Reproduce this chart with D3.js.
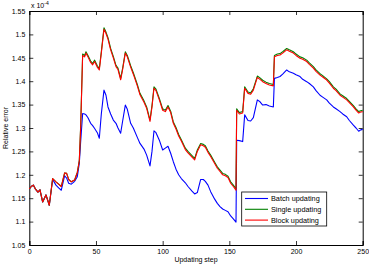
<!DOCTYPE html>
<html><head><meta charset="utf-8">
<script src="https://cdnjs.cloudflare.com/ajax/libs/d3/7.8.5/d3.min.js"></script>
<style>
html,body{margin:0;padding:0;background:#fff;}
svg{display:block;font-family:"Liberation Sans",Arial,Helvetica,sans-serif;}
</style></head>
<body>
<script>
const steps = [0,1.5,3,4.5,6.5,8,10,12.5,15,17.5,20,22,24,26.5,28,29.5,31.5,34,36,37.5,38.5,40,41.5,42.5,44,46,47.5,49,51,52.5,54,56,57.5,59,61,63,65,66.5,68.5,70,72,73.5,76,78,81,83,86,88,90.5,92,93.5,95,97.5,100,102,104,106,108,110,112,114,117,119,122,124,126,128.5,130.5,132,134,136,139,141,143,145,147,149,151,153,155,155.5,157.5,160,161.5,164,166,168,171,173,175,177.5,180,183,183.8,186,188,190,193,195,198,200,203,205,208,210,213,215,218,220,223,225,228,230,233,235,238,240,243,245,247,248.5,250];

const batch = [1.170,1.175,1.178,1.170,1.163,1.168,1.142,1.157,1.135,1.190,1.178,1.172,1.167,1.198,1.193,1.182,1.180,1.186,1.196,1.225,1.270,1.331,1.330,1.328,1.322,1.310,1.305,1.299,1.290,1.278,1.330,1.381,1.370,1.345,1.330,1.317,1.310,1.300,1.289,1.315,1.349,1.340,1.310,1.300,1.280,1.267,1.255,1.242,1.219,1.250,1.294,1.290,1.274,1.253,1.257,1.261,1.246,1.228,1.212,1.200,1.192,1.183,1.175,1.165,1.159,1.162,1.190,1.190,1.186,1.178,1.164,1.148,1.139,1.132,1.127,1.124,1.121,1.112,1.106,1.099,1.274,1.273,1.271,1.328,1.316,1.315,1.322,1.360,1.356,1.349,1.350,1.347,1.345,1.406,1.408,1.410,1.415,1.424,1.420,1.417,1.414,1.410,1.404,1.399,1.395,1.388,1.380,1.370,1.366,1.360,1.353,1.345,1.341,1.335,1.330,1.324,1.316,1.306,1.300,1.293,1.296,1.297];

const single = [1.170,1.175,1.178,1.170,1.163,1.168,1.142,1.157,1.135,1.192,1.185,1.180,1.175,1.204,1.203,1.190,1.185,1.189,1.205,1.230,1.303,1.458,1.455,1.463,1.455,1.443,1.438,1.445,1.433,1.427,1.463,1.514,1.505,1.493,1.470,1.453,1.434,1.428,1.406,1.428,1.463,1.455,1.433,1.418,1.393,1.374,1.358,1.345,1.317,1.348,1.388,1.383,1.363,1.341,1.338,1.348,1.336,1.313,1.301,1.286,1.275,1.257,1.250,1.241,1.235,1.253,1.267,1.265,1.262,1.251,1.242,1.227,1.217,1.210,1.203,1.201,1.197,1.185,1.178,1.170,1.341,1.333,1.335,1.388,1.377,1.375,1.384,1.411,1.407,1.402,1.398,1.395,1.393,1.455,1.458,1.459,1.463,1.470,1.467,1.463,1.458,1.452,1.450,1.445,1.439,1.431,1.424,1.416,1.412,1.405,1.399,1.388,1.383,1.373,1.369,1.363,1.357,1.348,1.341,1.335,1.337,1.338];

const block = [1.170,1.175,1.178,1.170,1.163,1.168,1.142,1.157,1.135,1.192,1.185,1.180,1.175,1.204,1.203,1.190,1.185,1.189,1.205,1.230,1.300,1.455,1.452,1.460,1.452,1.440,1.435,1.442,1.430,1.424,1.460,1.511,1.502,1.490,1.467,1.450,1.431,1.425,1.403,1.425,1.460,1.452,1.430,1.415,1.390,1.371,1.355,1.342,1.314,1.345,1.385,1.380,1.360,1.338,1.335,1.345,1.333,1.310,1.298,1.283,1.272,1.254,1.247,1.238,1.232,1.250,1.264,1.262,1.259,1.248,1.239,1.224,1.214,1.207,1.200,1.198,1.194,1.182,1.175,1.167,1.338,1.330,1.332,1.385,1.374,1.372,1.381,1.408,1.404,1.399,1.395,1.392,1.390,1.452,1.455,1.456,1.460,1.467,1.464,1.460,1.455,1.449,1.447,1.442,1.436,1.428,1.421,1.413,1.409,1.4025,1.396,1.385,1.380,1.370,1.366,1.360,1.354,1.345,1.338,1.332,1.334,1.335];

const xTicks = [0,50,100,150,200,250];
const yTicks = [1.05,1.1,1.15,1.2,1.25,1.3,1.35,1.4,1.45,1.5,1.55];
const seriesNames = ["Batch updating","Single updating","Block updating"];
const seriesColors = ["#0000ff","#008000","#ff0000"];
const seriesData = [batch, single, block];

const W = 369, H = 265;
const m = {left:29.3, right:W-362.7, top:11, bottom:H-245};
const svg = d3.select("body").append("svg").attr("width",W).attr("height",H);
const x = d3.scaleLinear().domain([0,250]).range([m.left, W-m.right]);
const y = d3.scaleLinear().domain([1.05,1.55]).range([H-m.bottom, m.top]);

const fmtY = d => d3.format(".2f")(d).replace(/0$/,"").replace(/\.$/,"");
const fs = 7;

// axes
const gx = svg.append("g").attr("transform",`translate(0,${y(1.05)})`)
  .call(d3.axisBottom(x).tickValues(xTicks).tickSize(-4).tickPadding(4).tickFormat(d3.format("d")));
const gxt = svg.append("g").attr("transform",`translate(0,${y(1.55)})`)
  .call(d3.axisTop(x).tickValues(xTicks).tickSize(-4).tickFormat(""));
const gy = svg.append("g").attr("transform",`translate(${x(0)},0)`)
  .call(d3.axisLeft(y).tickValues(yTicks).tickSize(-4).tickPadding(4).tickFormat(fmtY));
const gyr = svg.append("g").attr("transform",`translate(${x(250)},0)`)
  .call(d3.axisRight(y).tickValues(yTicks).tickSize(-4).tickFormat(""));
[gx,gxt,gy,gyr].forEach(g=>{
  g.select(".domain").attr("stroke","#000").attr("stroke-width",1);
  g.selectAll(".tick line").attr("stroke","#000").attr("stroke-width",0.8);
  g.selectAll("text").attr("font-size",fs).attr("fill","#000").attr("font-family","Liberation Sans, Arial, sans-serif");
});

// lines
const line = d3.line().x((d,i)=>x(steps[i])).y(d=>y(d));
seriesData.forEach((s,k)=>{
  svg.append("path").datum(s).attr("d",line).attr("fill","none")
    .attr("stroke",seriesColors[k]).attr("stroke-width",1.1).attr("stroke-linejoin","round");
});

// exponent label
const ex = svg.append("text").attr("x",31).attr("y",8).attr("font-size",fs).attr("fill","#000");
ex.append("tspan").text("x 10");
ex.append("tspan").attr("dy",-3).attr("font-size",5).text("-4");

// axis labels
svg.append("text").attr("x",(x(0)+x(250))/2).attr("y",262).attr("text-anchor","middle")
  .attr("font-size",fs).attr("fill","#000").text("Updating step");
svg.append("text").attr("transform",`translate(8,${(y(1.05)+y(1.55))/2}) rotate(-90)`)
  .attr("text-anchor","middle").attr("font-size",fs).attr("fill","#000").text("Relative error");

// legend
const lg = svg.append("g");
lg.append("rect").attr("x",241.7).attr("y",192).attr("width",85).attr("height",34)
  .attr("fill","#fff").attr("stroke","#000").attr("stroke-width",0.8);
seriesNames.forEach((n,k)=>{
  const yy = 198.5 + k*10.8;
  lg.append("line").attr("x1",245).attr("x2",268).attr("y1",yy).attr("y2",yy)
    .attr("stroke",seriesColors[k]).attr("stroke-width",1.1);
  lg.append("text").attr("x",271).attr("y",yy+2.5).attr("font-size",7.3).attr("fill","#000").text(n);
});
</script>
</body></html>
